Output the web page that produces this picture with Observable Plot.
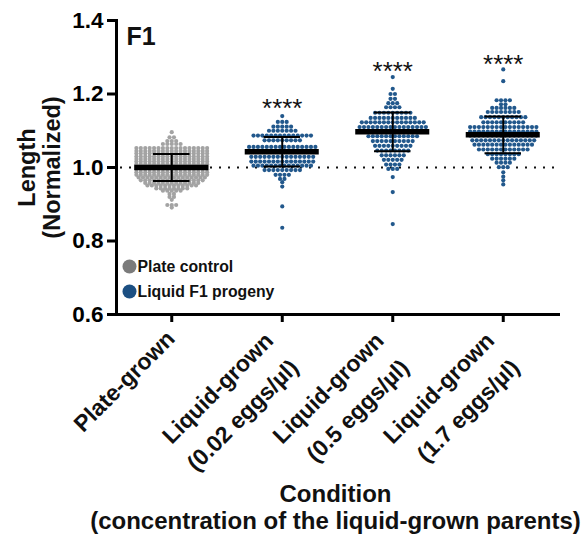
<!DOCTYPE html>
<html>
<head>
<meta charset="utf-8">
<script src="https://cdn.jsdelivr.net/npm/d3@7"></script>
<script src="https://cdn.jsdelivr.net/npm/@observablehq/plot@0.6"></script>
<style>
  html, body { margin: 0; padding: 0; background: #fff; }
  #chart svg { font-family: "Liberation Sans", Arial, sans-serif; overflow: visible; }
  #chart g[aria-label="y-axis tick label"] text { font-weight: bold; }
</style>
</head>
<body>
<div id="chart"></div>
<script>
// ---------- data ----------
const labelLine1 = ["Plate-grown", "Liquid-grown", "Liquid-grown", "Liquid-grown"];
const labelLine2 = ["", "(0.02 eggs/µl)", "(0.5 eggs/µl)", "(1.7 eggs/µl)"];
const groupKind = ["Plate control", "Liquid F1 progeny", "Liquid F1 progeny", "Liquid F1 progeny"];

// rows of the scatter: [value, number of dots in that row]
const plateRows = [
  [1.096,1],[1.082,2],[1.072,3],[1.064,5],
  [1.053,17],[1.045,17],[1.038,17],[1.030,17],[1.023,17],[1.016,17],[1.009,17],[1.002,17],
  [0.995,17],[0.987,17],[0.980,17],[0.973,16],[0.965,15],[0.958,13],[0.951,12],[0.943,8],
  [0.937,5],[0.928,2],[0.920,2],[0.912,1],[0.898,3],[0.891,1]
];
const low002Rows = [
  [1.140,1],[1.124,3],[1.111,5],[1.100,7],[1.087,14],[1.074,9],[1.056,16],[1.043,16],
  [1.029,15],[1.016,15],[1.005,14],[0.993,9],[0.980,4],[0.969,2],[0.960,1],[0.948,1],
  [0.894,1],[0.836,1]
];
const mid05Rows = [
  [1.246,1],[1.214,1],[1.200,2],[1.187,2],[1.175,3],[1.164,4],[1.149,9],[1.135,11],
  [1.123,15],[1.110,16],[1.097,16],[1.085,12],[1.072,10],[1.059,9],[1.046,8],[1.033,6],
  [1.021,5],[1.008,4],[0.996,3],[0.974,1],[0.933,1],[0.846,1]
];
const high17Rows = [
  [1.267,1],[1.235,1],[1.183,4],[1.172,2],[1.162,6],[1.151,8],[1.137,11],[1.123,10],
  [1.110,16],[1.098,16],[1.087,16],[1.074,15],[1.062,14],[1.049,12],[1.036,8],[1.024,6],
  [1.013,4],[1.001,3],[0.987,1],[0.975,1],[0.965,1],[0.954,1]
];
const groupRows = [plateRows, low002Rows, mid05Rows, high17Rows];

const means = [1.000, 1.043, 1.097, 1.089];
const sds   = [0.037, 0.040, 0.053, 0.050];

const starText = ["", "****", "****", "****"];
const starValues = [null, 1.180, 1.280, 1.300];

const yTicks = [0.6, 0.8, 1.0, 1.2, 1.4];
const referenceValue = 1.0;
const panelLabel = "F1";
const legendLabels = ["Plate control", "Liquid F1 progeny"];
const yLabelLines = ["Length", "(Normalized)"];
const xTitleLines = ["Condition", "(concentration of the liquid-grown parents)"];

// ---------- styles ----------
const dotColor = {"Plate control": "#a3a3a3", "Liquid F1 progeny": "#22588c"};
const legendColor = {"Plate control": "#7b7b7b", "Liquid F1 progeny": "#1c4f82"};
const DOT_STEP = 0.040;   // horizontal spacing of dots, in x units
const MEAN_HALF = 0.335;  // half width of the mean bar
const CAP_HALF = 0.165;   // half width of SD caps
const TICK_FONT = 23;

// build points
const points = [];
groupRows.forEach((rows, g) => {
  rows.forEach(([v, n]) => {
    for (let j = 0; j < n; j++) {
      points.push({g, v, off: (j - (n - 1) / 2) * DOT_STEP, kind: groupKind[g]});
    }
  });
});
const idx = d3.range(labelLine1.length);
const summary = idx.map(i => ({g: i, mean: means[i], sd: sds[i]}));
const stars = idx.filter(i => starValues[i] != null).map(i => ({g: i, v: starValues[i], t: starText[i]}));
const font = "bold";

const chart = Plot.plot({
  width: 587,
  height: 538,
  marginLeft: 116,
  marginRight: 29,
  marginTop: 20,
  marginBottom: 224,
  x: {type: "linear", domain: [-0.5, 3.5], axis: null},
  y: {domain: [0.6, 1.4], axis: null},
  marks: [
    // reference dotted line
    Plot.ruleY([referenceValue], {stroke: "#111", strokeWidth: 2.2, strokeDasharray: "2,7", strokeDashoffset: -4}),
    // dots
    Plot.dot(points, {x: d => d.g + d.off, y: "v", r: 2.1, fill: d => dotColor[d.kind], stroke: "none"}),
    // error bars
    Plot.ruleX(summary, {x: "g", y1: d => d.mean - d.sd, y2: d => d.mean + d.sd, stroke: "#000", strokeWidth: 2}),
    Plot.ruleY(summary, {y: d => d.mean + d.sd, x1: d => d.g - CAP_HALF, x2: d => d.g + CAP_HALF, stroke: "#000", strokeWidth: 2}),
    Plot.ruleY(summary, {y: d => d.mean - d.sd, x1: d => d.g - CAP_HALF, x2: d => d.g + CAP_HALF, stroke: "#000", strokeWidth: 2}),
    // mean bars
    Plot.ruleY(summary, {y: "mean", x1: d => d.g - MEAN_HALF, x2: d => d.g + MEAN_HALF, stroke: "#000", strokeWidth: 5.5}),
    // significance stars
    Plot.text(stars, {x: "g", y: "v", text: "t", fontSize: 26, fill: "#111", dy: 7}),
    // axes
    Plot.frame({anchor: "left", stroke: "#000", strokeWidth: 3}),
    Plot.frame({anchor: "bottom", stroke: "#000", strokeWidth: 3}),
    Plot.axisY({ticks: yTicks, tickFormat: d => d.toFixed(1), tickSize: 9, tickPadding: 4,
      fontSize: 22.5, fontWeight: font, strokeWidth: 3, label: null, stroke: "#000", fill: "#000"}),
    Plot.axisX({ticks: idx, tickFormat: () => "", tickSize: 8, strokeWidth: 3, label: null, stroke: "#000"}),
    // x tick labels
    Plot.text(idx.filter(i => !labelLine2[i]), {x: d => d, text: d => labelLine1[d], frameAnchor: "bottom",
      rotate: -45, textAnchor: "end", lineAnchor: "top", dx: -7, dy: 14, fontSize: TICK_FONT, fontWeight: font, fill: "#111"}),
    Plot.text(idx.filter(i => labelLine2[i]), {x: d => d, text: d => labelLine1[d], frameAnchor: "bottom",
      rotate: -45, textAnchor: "end", lineAnchor: "top", dx: -19, dy: 16, fontSize: TICK_FONT, fontWeight: font, fill: "#111"}),
    Plot.text(idx.filter(i => labelLine2[i]), {x: d => d, text: d => labelLine2[d], frameAnchor: "bottom",
      rotate: -45, textAnchor: "end", lineAnchor: "top", dx: 6, dy: 43, fontSize: TICK_FONT, fontWeight: font, fill: "#111"}),
    // y label
    Plot.text([yLabelLines[0]], {frameAnchor: "left", dx: -89, rotate: -90, textAnchor: "middle", lineAnchor: "middle",
      fontSize: 23.5, fontWeight: font, fill: "#111"}),
    Plot.text([yLabelLines[1]], {frameAnchor: "left", dx: -64, rotate: -90, textAnchor: "middle", lineAnchor: "middle",
      fontSize: 23.5, fontWeight: font, fill: "#111"}),
    // x title
    Plot.text([xTitleLines[0]], {frameAnchor: "bottom", dx: -2, dy: 180, textAnchor: "middle", lineAnchor: "middle",
      fontSize: 24, fontWeight: font, fill: "#111"}),
    Plot.text([xTitleLines[1]], {frameAnchor: "bottom", dx: -2, dy: 207, textAnchor: "middle", lineAnchor: "middle",
      fontSize: 24, fontWeight: font, fill: "#111"}),
    // panel label
    Plot.text([panelLabel], {frameAnchor: "top-left", dx: 10, dy: 7, textAnchor: "start", lineAnchor: "top",
      fontSize: 25, fontWeight: font, fill: "#111"}),
    // legend
    Plot.dot([legendLabels[0]], {frameAnchor: "bottom-left", dx: 13, dy: -48, r: 7, fill: d => legendColor[d]}),
    Plot.dot([legendLabels[1]], {frameAnchor: "bottom-left", dx: 13, dy: -23, r: 7, fill: d => legendColor[d]}),
    Plot.text([legendLabels[0]], {frameAnchor: "bottom-left", dx: 21, dy: -48, textAnchor: "start", lineAnchor: "middle",
      fontSize: 15.8, fontWeight: font, fill: "#111"}),
    Plot.text([legendLabels[1]], {frameAnchor: "bottom-left", dx: 21, dy: -23, textAnchor: "start", lineAnchor: "middle",
      fontSize: 15.8, fontWeight: font, fill: "#111"})
  ]
});
document.getElementById("chart").appendChild(chart);
</script>
</body>
</html>
